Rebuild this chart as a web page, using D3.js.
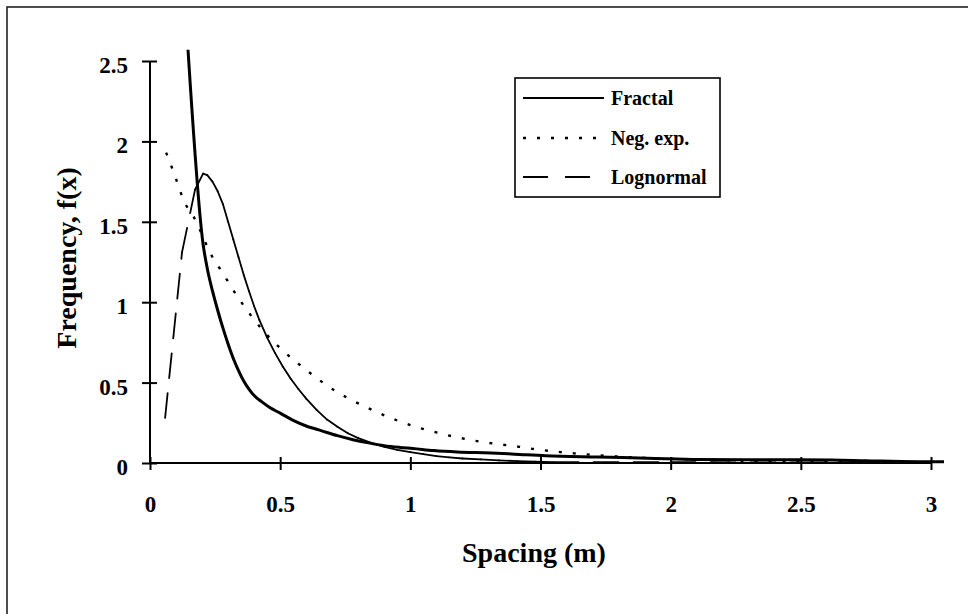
<!DOCTYPE html>
<html>
<head>
<meta charset="utf-8">
<script src="https://cdn.jsdelivr.net/npm/d3@7"></script>
<style>
  html, body { margin: 0; padding: 0; background: #fff; }
  svg { display: block; font-family: "Liberation Serif", "Times New Roman", serif; font-weight: bold; }
</style>
</head>
<body>
<svg id="chart" width="968" height="614"></svg>
<script>
// Spacing distributions: fitted frequency curves f(x) against spacing (m)
const xTicks = [0, 0.5, 1, 1.5, 2, 2.5, 3];
const xTickLabels = ["0", "0.5", "1", "1.5", "2", "2.5", "3"];
const yTicks = [0, 0.5, 1, 1.5, 2, 2.5];
const yTickLabels = ["0", "0.5", "1", "1.5", "2", "2.5"];

const seriesNames = ["Fractal", "Neg. exp.", "Lognormal"];

// Fractal
const fractalX = [0.146, 0.204, 0.22, 0.24, 0.26, 0.28, 0.30, 0.32, 0.34, 0.36, 0.38, 0.40, 0.43, 0.46, 0.50, 0.55, 0.60, 0.66, 0.72, 0.78, 0.84, 0.90, 0.96, 1.01, 1.09, 1.18, 1.31, 1.40, 1.52, 1.72, 1.91, 2.11, 2.40, 2.62, 2.75, 2.95, 3.05];
const fractalY = [2.57, 1.36, 1.21, 1.07, 0.95, 0.84, 0.74, 0.65, 0.575, 0.51, 0.46, 0.42, 0.38, 0.345, 0.31, 0.265, 0.23, 0.20, 0.17, 0.145, 0.125, 0.108, 0.097, 0.09, 0.077, 0.068, 0.062, 0.055, 0.045, 0.037, 0.030, 0.022, 0.020, 0.019, 0.014, 0.008, 0.008];

// Negative exponential
const negExpX = [0.062, 0.088, 0.108, 0.13, 0.165, 0.20, 0.23, 0.28, 0.334, 0.396, 0.45, 0.51, 0.615, 0.70, 0.82, 0.91, 0.96, 1.10, 1.25, 1.42, 1.47, 1.63, 1.80, 2.00, 2.25, 2.50, 2.75, 3.00];
const negExpY = [1.93, 1.82, 1.73, 1.63, 1.54, 1.42, 1.31, 1.18, 1.04, 0.90, 0.795, 0.70, 0.56, 0.46, 0.355, 0.29, 0.258, 0.19, 0.138, 0.10, 0.088, 0.06, 0.04, 0.026, 0.015, 0.009, 0.005, 0.003];

// Lognormal
const lognormX = [0.058, 0.123, 0.173, 0.204, 0.22, 0.24, 0.26, 0.28, 0.30, 0.32, 0.34, 0.36, 0.38, 0.40, 0.42, 0.45, 0.48, 0.51, 0.54, 0.57, 0.60, 0.64, 0.68, 0.72, 0.76, 0.80, 0.85, 0.90, 0.95, 1.00, 1.05, 1.10, 1.15, 1.20, 1.27, 1.34, 1.41, 1.48, 1.55, 2.00, 2.50, 3.00];
const lognormY = [0.28, 1.31, 1.70, 1.80, 1.79, 1.75, 1.69, 1.61, 1.50, 1.39, 1.28, 1.17, 1.07, 0.975, 0.89, 0.78, 0.685, 0.60, 0.525, 0.46, 0.40, 0.33, 0.27, 0.225, 0.185, 0.155, 0.125, 0.10, 0.082, 0.068, 0.055, 0.043, 0.035, 0.028, 0.022, 0.016, 0.012, 0.009, 0.006, 0.005, 0.004, 0.003];

const svg = d3.select("#chart");

// outer frame
svg.append("rect")
  .attr("x", 7).attr("y", 7)
  .attr("width", 980).attr("height", 640)
  .attr("fill", "none").attr("stroke", "#222").attr("stroke-width", 1.6);

const x = d3.scaleLinear().domain([0, 3]).range([150, 931]);
const y = d3.scaleLinear().domain([0, 2.5]).range([463, 61]);

// axes
const xAxis = d3.axisBottom(x).tickValues(xTicks).tickFormat((d, i) => xTickLabels[i]).tickSize(7).tickPadding(42);
const yAxis = d3.axisLeft(y).tickValues(yTicks).tickFormat((d, i) => yTickLabels[i]).tickSize(8).tickPadding(14);

const gx = svg.append("g").attr("transform", `translate(0,${y(0)})`).call(xAxis);
const gy = svg.append("g").attr("transform", `translate(${x(0)},0)`).call(yAxis);

[gx, gy].forEach(g => {
  g.select(".domain").attr("stroke", "#000").attr("stroke-width", 2);
  g.selectAll(".tick line").attr("stroke", "#000").attr("stroke-width", 2);
  g.selectAll(".tick text").attr("fill", "#000").attr("font-size", 23)
    .attr("font-family", "Liberation Serif, serif").attr("font-weight", "bold");
});
gx.select(".domain").attr("d", `M${x(0)},0H${x(3)}`);
gy.select(".domain").attr("d", `M0,${y(2.5)}V${y(0)}`);
gx.selectAll(".tick line").attr("y1", -6);
gy.selectAll(".tick line").attr("x1", 7).attr("x2", -8);
gy.selectAll(".tick text").attr("dy", "0.5em");
gx.selectAll(".tick text").attr("dy", "0");

// axis titles
svg.append("text")
  .attr("x", 534).attr("y", 562)
  .attr("text-anchor", "middle").attr("font-size", 28)
  .text("Spacing (m)");
svg.append("text")
  .attr("transform", "translate(76,258) rotate(-90)")
  .attr("text-anchor", "middle").attr("font-size", 28)
  .text("Frequency, f(x)");

const line = d3.line().x(d => x(d[0])).y(d => y(d[1])).curve(d3.curveMonotoneX);
const zipXY = (xs, ys) => xs.map((v, i) => [v, ys[i]]);

// negative exponential: dotted
svg.append("path")
  .datum(zipXY(negExpX, negExpY))
  .attr("d", line)
  .attr("fill", "none").attr("stroke", "#000")
  .attr("stroke-width", 2.4).attr("stroke-dasharray", "3,11");

// lognormal: long dashes, pattern restarting at each data point
const logPts = zipXY(lognormX, lognormY);
svg.append("g").selectAll("line")
  .data(d3.pairs(logPts))
  .join("line")
  .attr("x1", d => x(d[0][0])).attr("y1", d => y(d[0][1]))
  .attr("x2", d => x(d[1][0])).attr("y2", d => y(d[1][1]))
  .attr("stroke", "#000").attr("stroke-width", 1.8)
  .attr("stroke-linecap", "round")
  .attr("stroke-dasharray", "25,15");

// fractal: heavy solid
svg.append("path")
  .datum(zipXY(fractalX, fractalY))
  .attr("d", line)
  .attr("fill", "none").attr("stroke", "#000")
  .attr("stroke-width", 3).attr("stroke-linejoin", "round");

// legend
const legend = svg.append("g");
legend.append("rect")
  .attr("x", 515).attr("y", 78).attr("width", 205).attr("height", 119)
  .attr("fill", "#fff").attr("stroke", "#000").attr("stroke-width", 1.6);
const legendRows = [98, 138, 177];
const legendDash = ["none", "3,11", "25,17"];
const legendWidth = [2.2, 2.4, 2];
seriesNames.forEach((name, i) => {
  legend.append("line")
    .attr("x1", 523).attr("x2", i === 1 ? 605 : (i === 2 ? 590 : 604))
    .attr("y1", legendRows[i]).attr("y2", legendRows[i])
    .attr("stroke", "#000").attr("stroke-width", legendWidth[i])
    .attr("stroke-dasharray", legendDash[i]);
  legend.append("text")
    .attr("x", 611).attr("y", legendRows[i] + 7)
    .attr("font-size", 20)
    .text(name);
});
</script>
</body>
</html>
